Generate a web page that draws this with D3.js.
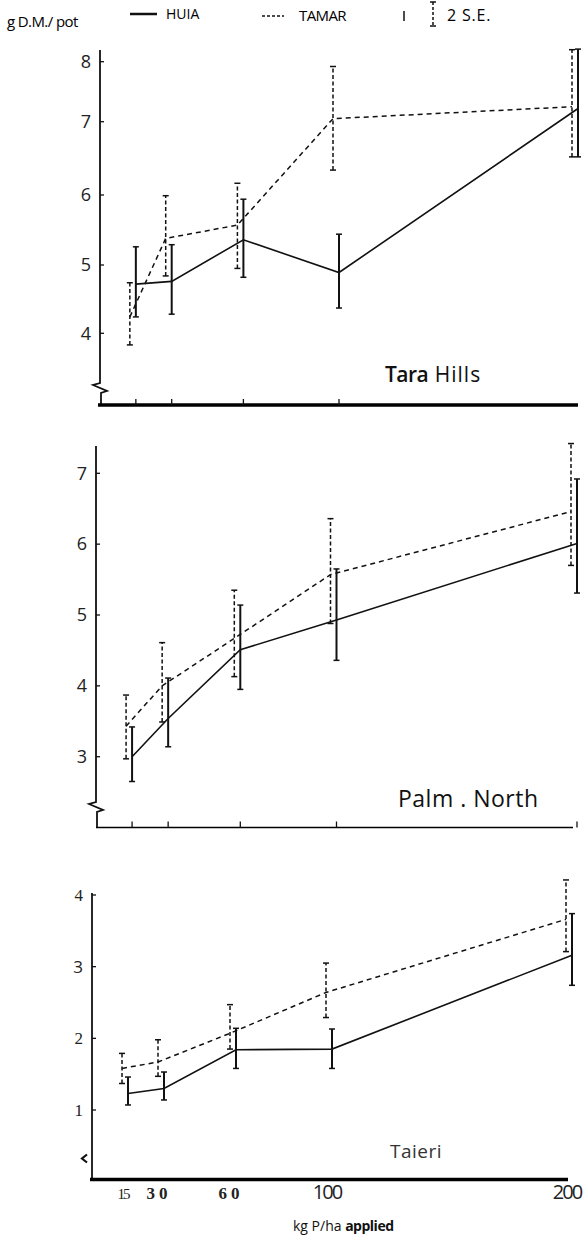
<!DOCTYPE html>
<html>
<head>
<meta charset="utf-8">
<script src="https://cdn.jsdelivr.net/npm/d3@7.9.0/dist/d3.min.js"></script>
<style>
  body { margin: 0; background: #fff; }
  svg { display: block; font-family: "Open Sans", sans-serif; }
</style>
</head>
<body>
<svg id="chart" width="588" height="1243"></svg>
<script>
// P rates (kg P/ha) and the labels under the bottom axis
const doses = [15, 30, 60, 100, 200];
const xTickLabels = ['15', '30', '60', '100', '200'];

// Tara Hills
const taraHuia = [4.72, 4.76, 5.36, 4.89, 7.22];
const taraHuiaLo = [4.24, 4.28, 4.82, 4.37, 6.52];
const taraHuiaHi = [5.26, 5.29, 5.94, 5.44, 8.21];
const taraTamar = [4.24, 5.38, 5.57, 7.05, 7.25];
const taraTamarLo = [3.83, 4.84, 4.95, 6.34, 6.52];
const taraTamarHi = [4.74, 5.99, 6.16, 7.92, 8.20];
const taraTicks = [4, 5, 6, 7, 8];

// Palmerston North
const palmHuia = [3.0, 3.54, 4.51, 4.93, 6.01];
const palmHuiaLo = [2.65, 3.14, 3.95, 4.36, 5.31];
const palmHuiaHi = [3.42, 4.11, 5.14, 5.65, 6.92];
const palmTamar = [3.43, 4.0, 4.67, 5.57, 6.46];
const palmTamarLo = [2.97, 3.49, 4.13, 4.88, 5.70];
const palmTamarHi = [3.87, 4.61, 5.35, 6.36, 7.42];
const palmTicks = [3, 4, 5, 6, 7];

// Taieri
const taieriHuia = [1.23, 1.30, 1.84, 1.85, 3.16];
const taieriHuiaLo = [1.07, 1.14, 1.58, 1.58, 2.74];
const taieriHuiaHi = [1.46, 1.53, 2.14, 2.13, 3.74];
const taieriTamar = [1.58, 1.67, 2.07, 2.64, 3.66];
const taieriTamarLo = [1.37, 1.47, 1.85, 2.29, 3.21];
const taieriTamarHi = [1.79, 1.98, 2.47, 3.05, 4.21];
const taieriTicks = [1, 2, 3, 4];

const svg = d3.select('#chart');

// panel layout (the top one is hand drawn, so its y scale is piecewise)
const panels = [
  {
    name: ['Tara', ' Hills'], labelX: 385, labelY: 382, labelSize: 21,
    huia: [taraHuia, taraHuiaLo, taraHuiaHi],
    tamar: [taraTamar, taraTamarLo, taraTamarHi],
    ticks: taraTicks,
    y: d3.scaleLinear().domain(taraTicks).range([333.3, 265, 195, 121.7, 61.7]),
    x: d3.scaleLinear().domain([0, 200]).range([100, 578]),
    top: 50, bottom: 405, axisW: 3.5, axisFrom: 98, axisTo: 578,
    xTicks: [15, 30, 60, 100], breakY: 383
  },
  {
    name: ['Palm . North'], labelX: 398, labelY: 807, labelSize: 23,
    huia: [palmHuia, palmHuiaLo, palmHuiaHi],
    tamar: [palmTamar, palmTamarLo, palmTamarHi],
    ticks: palmTicks,
    y: d3.scaleLinear().domain([3, 7]).range([756.7, 473.3]),
    x: d3.scaleLinear().domain([0, 200]).range([96, 577]),
    top: 446, bottom: 827.5, axisW: 1.6, axisFrom: 96, axisTo: 573,
    xTicks: [15, 30, 60, 100, 200], breakY: 802
  },
  {
    name: ['Taieri'], labelX: 390, labelY: 1158, labelSize: 19,
    huia: [taieriHuia, taieriHuiaLo, taieriHuiaHi],
    tamar: [taieriTamar, taieriTamarLo, taieriTamarHi],
    ticks: taieriTicks,
    y: d3.scaleLinear().domain([1, 4]).range([1110, 895]),
    x: d3.scaleLinear().domain([0, 200]).range([92, 572]),
    top: 893, bottom: 1179.5, axisW: 3.5, axisFrom: 90, axisTo: 568,
    xTicks: [], breakY: null
  }
];

const dodge = -6; // TAMAR bars sit a little left of HUIA

function drawSeries(g, p, series, dashed) {
  const [mean, lo, hi] = series;
  const xs = (i) => p.x(doses[i]) + (dashed ? dodge : 0);

  g.append('path')
    .attr('d', d3.line().x((d, i) => xs(i)).y(d => p.y(d))(mean))
    .attr('fill', 'none')
    .attr('stroke', '#111')
    .attr('stroke-width', dashed ? 1.5 : 1.6)
    .attr('stroke-dasharray', dashed ? '5,4' : null);

  mean.forEach((m, i) => {
    const bx = xs(i);
    g.append('line')
      .attr('x1', bx).attr('x2', bx)
      .attr('y1', p.y(lo[i])).attr('y2', p.y(hi[i]))
      .attr('stroke', '#111')
      .attr('stroke-width', dashed ? 1.5 : 2)
      .attr('stroke-dasharray', dashed ? '4,2.5' : null);
    [lo[i], hi[i]].forEach(v => {
      g.append('line')
        .attr('x1', bx - 3).attr('x2', bx + 3)
        .attr('y1', p.y(v)).attr('y2', p.y(v))
        .attr('stroke', '#111').attr('stroke-width', 1.5);
    });
  });
}

panels.forEach((p, pi) => {
  const g = svg.append('g');
  const ax = p.x(0);

  // y axis, with a break mark near the bottom
  let yPath;
  if (p.breakY) {
    const b = p.breakY;
    yPath = `M${ax},${p.top}L${ax},${b}L${ax - 7},${b + 2}L${ax + 7},${b + 8}L${ax + 1},${b + 10}L${ax + 1},${p.bottom}`;
  } else {
    yPath = `M${ax},${p.top}L${ax},${p.bottom}`;
  }
  g.append('path').attr('d', yPath).attr('fill', 'none')
    .attr('stroke', '#111').attr('stroke-width', 1.8);

  if (pi === 2) {
    g.append('path')
      .attr('d', `M${ax - 5},${p.bottom - 25}L${ax - 10},${p.bottom - 21}L${ax - 5},${p.bottom - 17}`)
      .attr('fill', 'none').attr('stroke', '#111').attr('stroke-width', 2.2);
  }

  // y ticks and labels
  p.ticks.forEach(t => {
    const ty = p.y(t);
    g.append('line')
      .attr('x1', ax).attr('x2', ax + 4)
      .attr('y1', ty).attr('y2', ty)
      .attr('stroke', '#111').attr('stroke-width', 1.3);
    g.append('text')
      .attr('x', ax - 9).attr('y', ty)
      .attr('dy', '0.35em')
      .attr('text-anchor', 'end')
      .attr('font-size', pi === 2 ? 17 : 18)
      .attr('font-family', pi === 2 && t !== 3 ? '"Liberation Serif", serif' : null)
      .attr('fill', '#222')
      .text(t);
  });

  // x axis
  g.append('line')
    .attr('x1', p.axisFrom).attr('x2', p.axisTo)
    .attr('y1', p.bottom).attr('y2', p.bottom)
    .attr('stroke', '#000').attr('stroke-width', p.axisW);
  p.xTicks.forEach(t => {
    g.append('line')
      .attr('x1', p.x(t)).attr('x2', p.x(t))
      .attr('y1', p.bottom).attr('y2', p.bottom - 6)
      .attr('stroke', '#111').attr('stroke-width', 1.3);
  });

  drawSeries(g, p, p.tamar, true);
  drawSeries(g, p, p.huia, false);

  // site name
  const lab = g.append('text')
    .attr('x', p.labelX).attr('y', p.labelY)
    .attr('font-size', p.labelSize)
    .attr('letter-spacing', pi === 0 ? 1 : 0.5)
    .attr('fill', pi === 2 ? '#333' : '#111');
  p.name.forEach((s, i) => {
    lab.append('tspan')
      .attr('font-weight', p.name.length > 1 && i === 0 ? 600 : null)
      .attr('letter-spacing', p.name.length > 1 && i === 0 ? -0.5 : null)
      .text(s);
  });
});

// x tick labels under the last panel
const last = panels[2];
doses.forEach((d, i) => {
  const serif = d < 100;
  svg.append('text')
    .attr('x', last.x(d) - 5)
    .attr('y', 1199)
    .attr('text-anchor', 'middle')
    .attr('font-family', serif ? '"Liberation Serif", serif' : null)
    .attr('font-weight', serif && d > 15 ? 700 : null)
    .attr('letter-spacing', serif && d > 15 ? 4 : -2)
    .attr('font-size', d === 15 ? 15 : (serif ? 17 : 20))
    .attr('fill', '#222')
    .text(xTickLabels[i]);
});

svg.append('text')
  .attr('x', 293).attr('y', 1231)
  .attr('font-size', 14)
  .attr('fill', '#111')
  .html('kg P/ha <tspan font-weight="700" letter-spacing="-0.5">applied</tspan>');

// y axis title
svg.append('text')
  .attr('x', 7).attr('y', 27)
  .attr('font-size', 15)
  .attr('letter-spacing', -0.6)
  .text('g D.M./ pot');

// legend
const leg = svg.append('g');
leg.append('line').attr('x1', 130).attr('x2', 157).attr('y1', 14).attr('y2', 14)
  .attr('stroke', '#111').attr('stroke-width', 2.5);
leg.append('text').attr('x', 166).attr('y', 19).attr('font-size', 14).text('HUIA');
leg.append('line').attr('x1', 262).attr('x2', 284).attr('y1', 16).attr('y2', 16)
  .attr('stroke', '#111').attr('stroke-width', 1.3).attr('stroke-dasharray', '3,2');
leg.append('text').attr('x', 299).attr('y', 21).attr('font-size', 15)
  .attr('letter-spacing', -0.6).text('TAMAR');
leg.append('line').attr('x1', 404).attr('x2', 404).attr('y1', 11).attr('y2', 21)
  .attr('stroke', '#111').attr('stroke-width', 1.5);
leg.append('line').attr('x1', 433).attr('x2', 433).attr('y1', 2).attr('y2', 26)
  .attr('stroke', '#111').attr('stroke-width', 1.5).attr('stroke-dasharray', '3,2');
[2, 26].forEach(v => {
  leg.append('line').attr('x1', 430).attr('x2', 436).attr('y1', v).attr('y2', v)
    .attr('stroke', '#111').attr('stroke-width', 1.5);
});
leg.append('text').attr('x', 447).attr('y', 21).attr('font-size', 16)
  .attr('letter-spacing', 0.8).text('2 S.E.');
</script>
</body>
</html>
